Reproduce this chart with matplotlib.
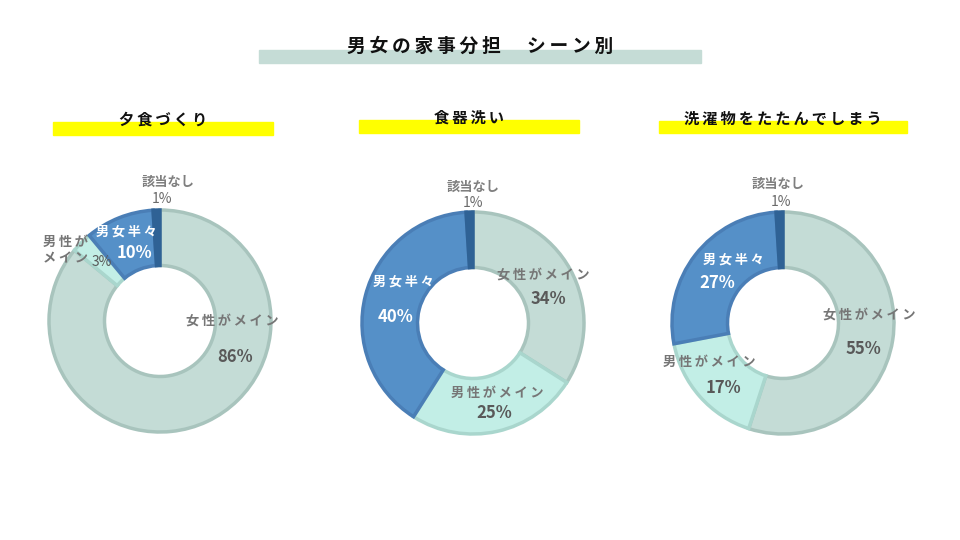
import matplotlib.pyplot as plt
from matplotlib.patches import Rectangle

plt.rcParams['font.family'] = ['Noto Sans CJK JP', 'DejaVu Sans']

# データ
categories = ['女性がメイン', '男性がメイン', '男女半々', '該当なし']
scenes = ['夕食づくり', '食器洗い', '洗濯物をたたんでしまう']
values_dinner = [86, 3, 10, 1]
values_dishes = [34, 25, 40, 1]
values_laundry = [55, 17, 27, 1]
all_values = [values_dinner, values_dishes, values_laundry]

colors = ['#C4DCD6', '#C2EEE6', '#5590C8', '#2F6295']
edges = ['#A8C4BD', '#A9D6CD', '#4A7EB6', '#2F6295']

# 位置 (ピクセル)
centers = [(160, 321), (473, 323), (783, 323)]
radius = 111
sub_bars = [(53, 122, 220, 13), (359, 120, 220, 13), (659, 121, 248, 12)]

# ラベル位置 (半径1の座標系), 各ラベル: (名前位置, 数値位置)
label_pos = [
    [((0.65, 0.0), (0.68, -0.32)), ((-0.85, 0.64), (-0.52, 0.53)),
     ((-0.30, 0.81), (-0.23, 0.61)), ((0.07, 1.25), (0.02, 1.10))],
    [((0.63, 0.44), (0.68, 0.22)), ((0.22, -0.63), (0.19, -0.81)),
     ((-0.63, 0.37), (-0.70, 0.05)), ((0.0, 1.23), (0.0, 1.08))],
    [((0.78, 0.08), (0.72, -0.23)), ((-0.66, -0.35), (-0.54, -0.59)),
     ((-0.45, 0.57), (-0.59, 0.36)), ((-0.04, 1.25), (-0.02, 1.09))],
]


def spaced(s, n=1):
    # 字間を広げる (細いスペース)
    return ('\u2009' * n).join(s)


W, H = 960, 540
fig = plt.figure(figsize=(9.6, 5.4), dpi=100)

# タイトル
fig.patches.append(Rectangle((259 / W, 1 - 63 / H), 442 / W, 13 / H,
                             transform=fig.transFigure, color='#C5DCD6', zorder=0))
fig.text(480 / W, 1 - 46 / H, spaced('男女の家事分担　シーン別'), ha='center', va='center',
         fontsize=13.5, fontweight='bold', color='#111111')

for i in range(3):
    bx, by, bw, bh = sub_bars[i]
    fig.patches.append(Rectangle((bx / W, 1 - (by + bh) / H), bw / W, bh / H,
                                 transform=fig.transFigure, color='#FFFF00', zorder=0))
    fig.text((bx + bw / 2) / W, 1 - (by - 2) / H, spaced(scenes[i]), ha='center', va='center',
             fontsize=11, fontweight='bold', color='#111111')

    cx, cy = centers[i]
    s = 1.6
    ax = fig.add_axes([(cx - s * radius) / W, 1 - (cy + s * radius) / H,
                       2 * s * radius / W, 2 * s * radius / H])
    wedges, _ = ax.pie(all_values[i], colors=colors, startangle=90, counterclock=False,
                       radius=1, wedgeprops=dict(width=0.5, linewidth=2.5))
    for w, ec in zip(wedges, edges):
        w.set_edgecolor(ec)
    ax.set_xlim(-s, s)
    ax.set_ylim(-s, s)
    ax.set_aspect('equal')
    ax.axis('off')

    for j, cat in enumerate(categories):
        (nx, ny), (px, py) = label_pos[i][j]
        name = spaced(cat) if j != 3 else cat
        if i == 0 and j == 1:
            name = spaced('男性が') + '\n' + spaced('メイン')
        if j == 2:
            c_name, c_val = 'white', 'white'
        elif j == 3:
            c_name, c_val = '#7F7F7F', '#6A6A6A'
        else:
            c_name, c_val = '#767676', '#595959'
        ax.text(nx, ny, name, ha='center', va='center', fontsize=9.5,
                fontweight='bold', color=c_name, linespacing=1.2)
        vsize = 10 if (j == 3 or (i == 0 and j == 1)) else 12
        ax.text(px, py, f'{all_values[i][j]}%', ha='center', va='center',
                fontsize=vsize, fontweight='bold' if vsize > 10 else 'normal', color=c_val)

fig.savefig('out.png', dpi=100)
